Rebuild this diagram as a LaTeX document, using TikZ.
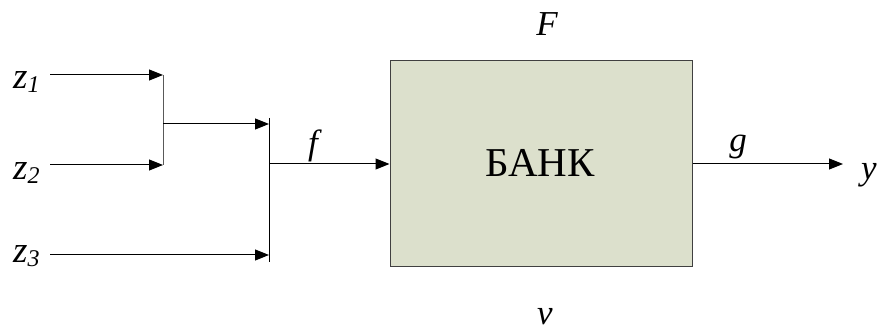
\documentclass[tikz,border=0pt]{standalone}
\usepackage{fontspec}
\setmainfont{Liberation Serif}
\newfontfamily\tnr{Liberation Serif}
\usetikzlibrary{arrows.meta}
\definecolor{boxfill}{RGB}{220,224,204}
\definecolor{boxline}{RGB}{64,64,64}
\newcommand{\lbl}{\tnr\fontsize{35}{35}\selectfont\itshape}
\newcommand{\zsub}[1]{\raisebox{-4pt}{\tnr\fontsize{24}{24}\selectfont\itshape #1}}
\begin{document}
\begin{tikzpicture}[x=1pt,y=-1pt,
  conn/.style={line width=1pt,draw=black},
  arr/.style={conn,-{Triangle[length=14pt,width=11pt]}},
  lab/.style={inner sep=0pt,font=\lbl,anchor=base}]
\useasboundingbox (0,0) rectangle (878,328);
% box
\node[draw=boxline,fill=boxfill,line width=1pt,minimum width=302pt,minimum height=206pt,inner sep=0pt] (bank) at (541,164) {};
\node[inner sep=0pt,anchor=base,font=\tnr\fontsize{41}{41}\selectfont] (banktxt) at (540,177) {БАНК};
% labels
\node[lab,anchor=base west,font=\tnr\fontsize{37}{37}\selectfont\itshape] (z1) at (13,89) {z\zsub{1}};
\node[lab,anchor=base west,font=\tnr\fontsize{37}{37}\selectfont\itshape] (z2) at (13,180) {z\zsub{2}};
\node[lab,anchor=base west,font=\tnr\fontsize{37}{37}\selectfont\itshape] (z3) at (13,263) {z\zsub{3}};
\node[lab] (f) at (313,155) {f};
\node[lab] (g) at (738,152) {g};
\node[lab,anchor=base west] (y) at (861,180) {y};
\node[lab,font=\tnr\fontsize{35}{35}\selectfont\itshape] (F) at (547,36) {F};
\node[lab] (v) at (545,325) {v};
% coordinates
\coordinate (s1) at (50,75);
\coordinate (s2) at (50,165);
\coordinate (s3) at (50,255);
\coordinate (j1t) at (163,75);
\coordinate (j1b) at (163,165);
\coordinate (j1m) at (163,124);
\coordinate (j2t) at (269,118);
\coordinate (j2b) at (269,262);
\coordinate (j2m) at (269,124);
\coordinate (j2z) at (269,255);
\coordinate (j2f) at (269,164);
\coordinate (yend) at (843,164);
% connectors
\draw[arr] (s1) -- (j1t);
\draw[arr] (s2) -- (j1b);
\draw[conn,draw=black!65] (j1t) -- (j1b);
\draw[arr] (j1m) -- (j2m);
\draw[arr] (s3) -- (j2z);
\draw[conn] (j2t) -- (j2b);
\draw[arr] (j2f) -- (bank.west);
\draw[arr] (bank.east) -- (yend);
\end{tikzpicture}
\end{document}
